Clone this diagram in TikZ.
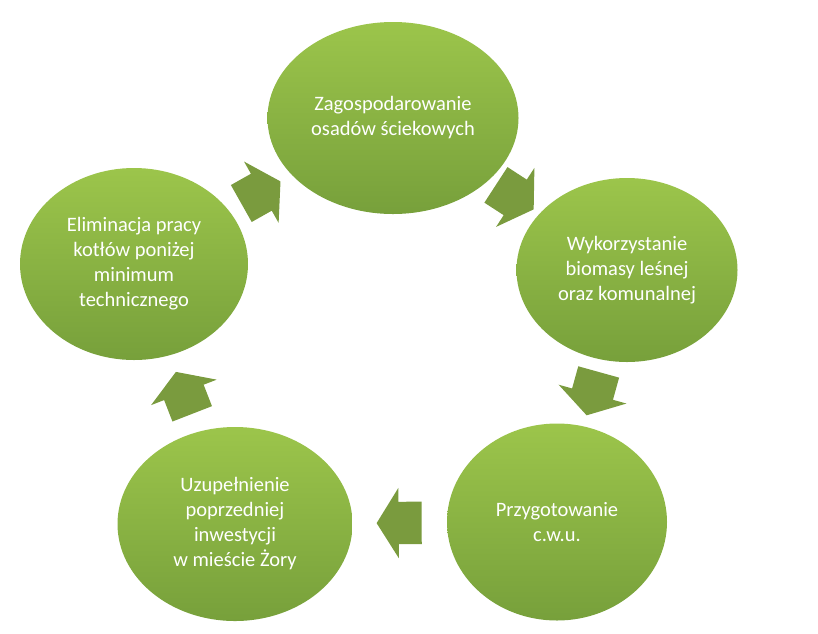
\documentclass[tikz,border=0pt]{standalone}
\usepackage{fontspec}
\setmainfont{Carlito}
\usetikzlibrary{shapes.geometric,shapes.arrows}
\definecolor{LeafTop}{HTML}{9CC54B}
\definecolor{LeafBottom}{HTML}{77A03B}
\definecolor{ArrowOlive}{HTML}{7A9B3E}

\begin{document}
\begin{tikzpicture}[
    x=1pt, y=-1pt,
    stage/.style={ellipse, top color=LeafTop, bottom color=LeafBottom, draw=none, inner sep=0pt, align=center, font=\fontsize{20.5}{25}\selectfont\color{white}},
    cyclearrow/.style={single arrow, fill=ArrowOlive, draw=none, inner xsep=0pt, inner ysep=21pt, minimum height=45pt, single arrow head extend=14pt, single arrow tip angle=116, sloped, allow upside down, midway, xshift=-6pt}
  ]
    \useasboundingbox (0,0) rectangle (818,633);

    % Stages of the cycle
    \node (osady) [stage, minimum width=251pt, minimum height=192pt] at (393,118) {Zagospodarowanie\\osadów ściekowych};
    \node (biomasa) [stage, minimum width=221pt, minimum height=184pt] at (627,270) {Wykorzystanie\\biomasy leśnej\\oraz komunalnej};
    \node (cwu) [stage, minimum width=220pt, minimum height=197pt] at (557,522) {Przygotowanie\\c.w.u.};
    \node (zory) [stage, minimum width=235pt, minimum height=194pt] at (235,524) {Uzupełnienie\\poprzedniej\\inwestycji\\w mieście Żory};
    \node (kotly) [stage, minimum width=228pt, minimum height=192pt] at (134,264) {Eliminacja pracy\\kotłów poniżej\\minimum\\technicznego};

    % Block arrows between stages
    \path (kotly) -- node [cyclearrow] {} (osady);
    \path (osady) -- node [cyclearrow] {} (biomasa);
    \path (biomasa) -- node [cyclearrow] {} (cwu);
    \path (cwu) -- node [cyclearrow] {} (zory);
    \path (zory) -- node [cyclearrow] {} (kotly);
\end{tikzpicture}
\end{document}
